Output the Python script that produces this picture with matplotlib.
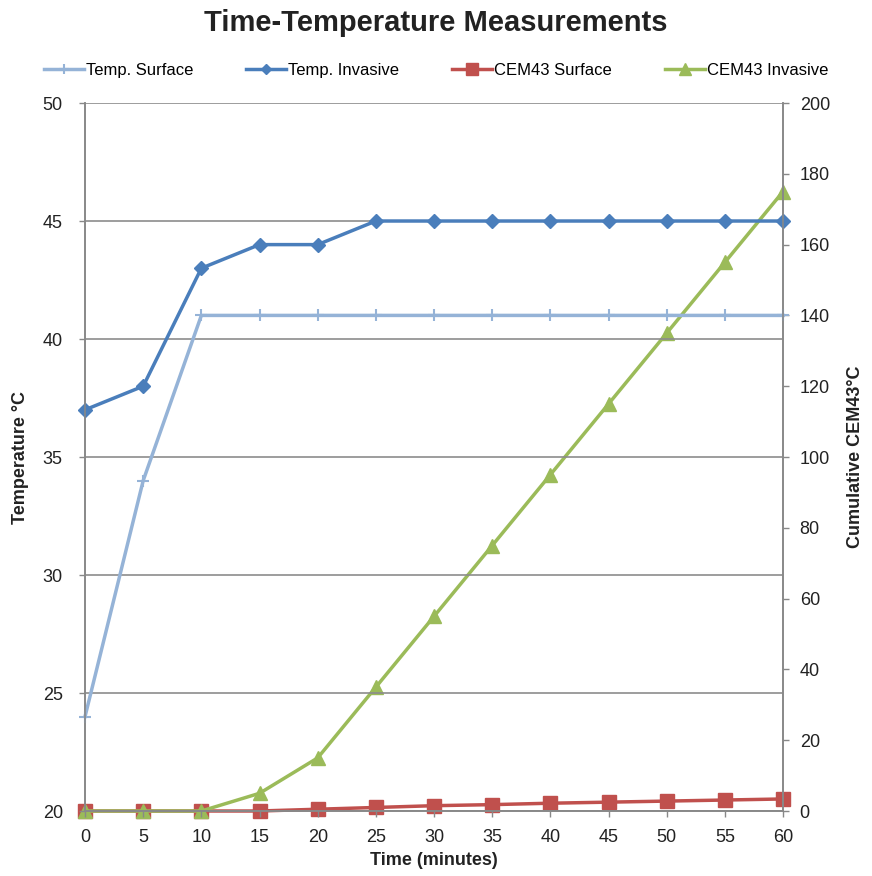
import numpy as np
import matplotlib.pyplot as plt

plt.rcParams['font.family'] = ['Liberation Sans', 'DejaVu Sans']

# time points (minutes)
time = [0, 5, 10, 15, 20, 25, 30, 35, 40, 45, 50, 55, 60]

# temperatures (deg C), left axis
temp_surface = [24, 34, 41, 41, 41, 41, 41, 41, 41, 41, 41, 41, 41]
temp_invasive = [37, 38, 43, 44, 44, 45, 45, 45, 45, 45, 45, 45, 45]

# cumulative CEM43, right axis
cem_surface = [0, 0, 0, 0, 0.5, 1, 1.5, 1.8, 2.2, 2.5, 2.8, 3.1, 3.4]
cem_invasive = [0, 0, 0, 5, 15, 35, 55, 75, 95, 115, 135, 155, 175]

fig = plt.figure(figsize=(8.72, 8.76), dpi=100)
ax = fig.add_axes([0.0975, 0.0742, 0.8005, 0.8082])
ax2 = ax.twinx()

grey = '#888888'
ax.set_ylim(20, 50)
ax.set_xlim(0, 60)
ax.set_yticks(np.arange(20, 51, 5))
ax.set_xticks(time)
ax2.set_ylim(0, 200)
ax2.set_yticks(np.arange(0, 201, 20))

ax.yaxis.grid(True, color='#8c8c8c', lw=1.2)
ax.set_axisbelow(True)

for a in (ax, ax2):
    a.spines['top'].set_visible(False)
    for s in ('left', 'right', 'bottom'):
        a.spines[s].set_color(grey)
        a.spines[s].set_linewidth(1.2)
    a.tick_params(colors=grey, labelcolor='#222222', labelsize=13, length=4, width=1)
ax.tick_params(axis='x', pad=9)
ax.tick_params(axis='y', pad=12)
ax2.tick_params(axis='y', pad=8)

ax.set_zorder(2)
ax.patch.set_visible(False)
ax2.set_zorder(1)

l1, = ax.plot(time, temp_surface, color='#95B3D7', lw=2.5, marker='+', ms=9,
              mew=1.5, label='Temp. Surface', clip_on=False)
l2, = ax.plot(time, temp_invasive, color='#4A7EBB', lw=2.5, marker='D', ms=7,
              label='Temp. Invasive', clip_on=False)
l3, = ax2.plot(time, cem_surface, color='#C0504D', lw=2.5, marker='s', ms=10,
               label='CEM43 Surface', clip_on=False)
l4, = ax2.plot(time, cem_invasive, color='#9BBB59', lw=2.5, marker='^', ms=10,
               label='CEM43 Invasive', clip_on=False)

ax.set_xlabel('Time (minutes)', fontsize=13, fontweight='bold', labelpad=4,
              color='#222222')
ax.set_ylabel('Temperature °C', fontsize=13, fontweight='bold', labelpad=10,
              color='#222222')
ax2.set_ylabel('Cumulative CEM43°C', fontsize=13, fontweight='bold', labelpad=12,
               color='#222222')

fig.suptitle('Time-Temperature Measurements', fontsize=21, fontweight='bold',
             color='#222222', y=0.99)
fig.legend(handles=[l1, l2, l3, l4], loc='center', bbox_to_anchor=(0.5, 0.92),
           ncol=4, frameon=False, fontsize=12, handlelength=2.4,
           handletextpad=0.1, columnspacing=3.2, markerscale=0.8)

fig.savefig('out.png', dpi=100)
